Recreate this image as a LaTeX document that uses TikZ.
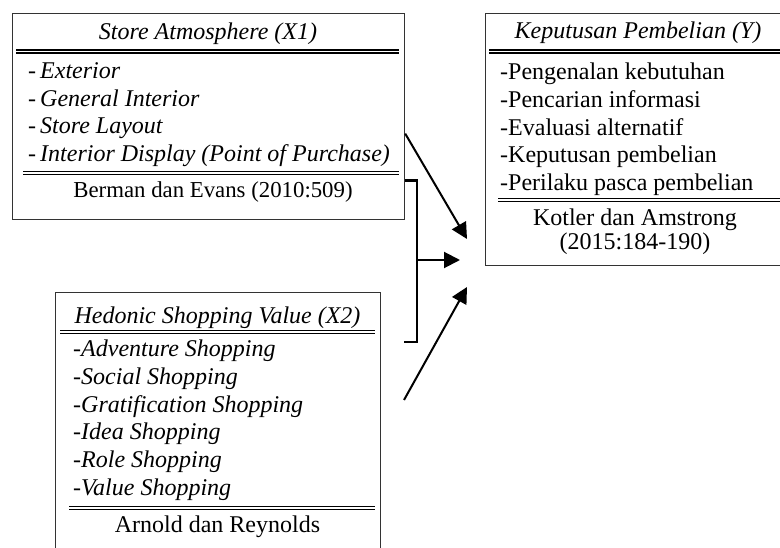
\documentclass[tikz,border=0pt]{standalone}
\usepackage{fontspec}
\setmainfont{Liberation Serif}
\usetikzlibrary{arrows.meta,positioning}

\begin{document}
\begin{tikzpicture}[
  x=1pt, y=-1pt,
  every node/.style={font=\fontsize{24}{27.7}\selectfont, inner sep=0pt},
  frame/.style={draw=black!80, line width=1.2pt, anchor=north west},
  rule/.style={line width=1.4pt, double, double distance=1.6pt},
  link/.style={line width=2pt, -{Triangle[length=16pt,width=16pt]}},
  list/.style={align=left, anchor=north west},
  head/.style={font=\fontsize{24}{27.7}\selectfont\itshape},
  source/.style={font=\fontsize{22.8}{24}\selectfont}
]
  \useasboundingbox (0,0) rectangle (780,548);
  \clip (0,0) rectangle (780,548);

  % boxes
  \node[frame, minimum width=392pt, minimum height=206pt] (x1) at (12,13) {};
  \node[frame, minimum width=305pt, minimum height=252pt] (y) at (485,13) {};
  \node[frame, minimum width=325pt, minimum height=280pt] (x2) at (55,292) {};

  % store atmosphere
  \node[head] (x1 title) at (208,33.5) {Store Atmosphere (X1)};
  \node[list] (x1 items) at (28,62.5) {%
    -\,\textit{Exterior}\\
    -\,\textit{General Interior}\\
    -\,\textit{Store Layout}\\
    -\,\textit{Interior Display (Point of Purchase)}};
  \node[source] (x1 src) at (213,192) {Berman dan Evans (2010:509)};
  \draw[rule] (16,51.5) -- (399,51.5);
  \draw[rule] (23,173) -- (399,173);

  % keputusan pembelian
  \node[head] (y title) at (638,33) {Keputusan Pembelian (Y)};
  \node[list] (y items) at (500,63) {%
    -Pengenalan kebutuhan\\
    -Pencarian informasi\\
    -Evaluasi alternatif\\
    -Keputusan pembelian\\
    -Perilaku pasca pembelian};
  \node[align=center, font=\fontsize{24}{24.5}\selectfont] (y src) at (635,231.5) {Kotler dan Amstrong\\(2015:184-190)};
  \draw[rule] (489,51.5) -- (790,51.5);
  \draw[rule] (498,200) -- (790,200);

  % hedonic shopping value
  \node[head] (x2 title) at (217.5,317.5) {Hedonic Shopping Value (X2)};
  \node[list] (x2 items) at (73,340) {%
    -\textit{Adventure Shopping}\\
    -\textit{Social Shopping}\\
    -\textit{Gratification Shopping}\\
    -\textit{Idea Shopping}\\
    -\textit{Role Shopping}\\
    -\textit{Value Shopping}};
  \node (x2 src) at (217.5,527) {Arnold dan Reynolds};
  \draw[rule] (60,332) -- (375,332);
  \draw[rule] (69,508) -- (375,508);

  % connectors
  \coordinate (in1) at (467,239);
  \coordinate (in2) at (460,260);
  \coordinate (in3) at (467,287);
  \coordinate (b top) at ([yshift=-64pt]x1.east);
  \coordinate (b bot) at (404,342);
  \coordinate (b mid) at (416,260);
  \coordinate (s3) at (404,400);

  \draw[link] ([yshift=-17pt]x1.east) -- (in1);
  \draw[line width=2.2pt] (b top) -- ++(12,0) |- (b bot);
  \draw[link] (b mid) -- (in2);
  \draw[link] (s3) -- (in3);
\end{tikzpicture}
\end{document}
